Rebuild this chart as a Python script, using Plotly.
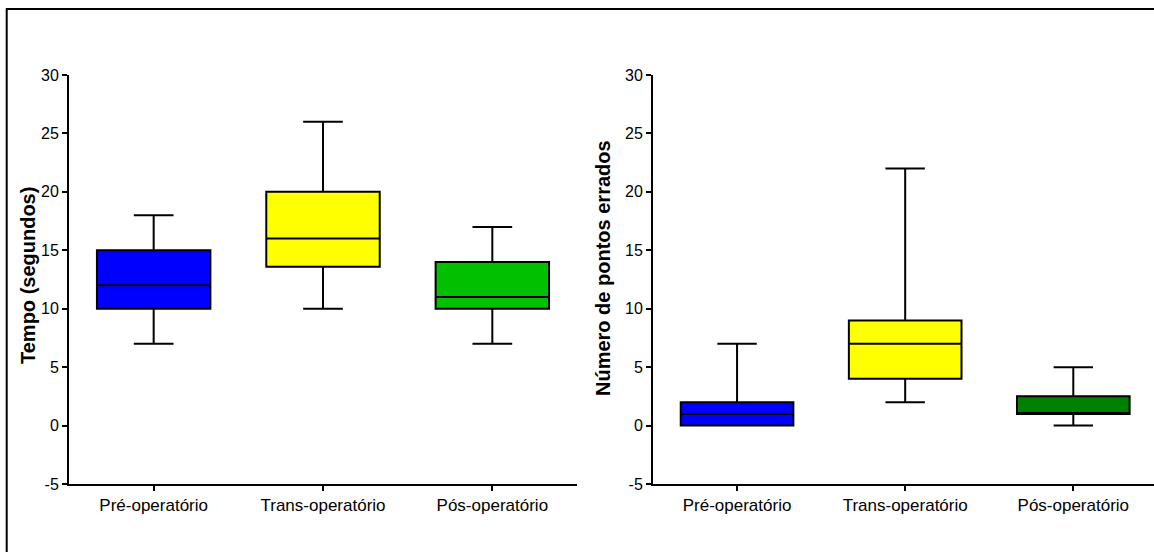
import plotly.graph_objects as go

categories = ["Pré-operatório", "Trans-operatório", "Pós-operatório"]
colors_left = ["#0000FF", "#FFFF00", "#00C000"]
colors_right = ["#0000FF", "#FFFF00", "#008000"]

# Tempo (segundos)
tempo_low = [7, 10, 7]
tempo_q1 = [10, 13.6, 10]
tempo_med = [12, 16, 11]
tempo_q3 = [15, 20, 14]
tempo_high = [18, 26, 17]

# Número de pontos errados
erros_low = [0, 2, 0]
erros_q1 = [0, 4, 1]
erros_med = [1, 7, 1]
erros_q3 = [2, 9, 2.5]
erros_high = [7, 22, 5]

y_ticks = [-5, 0, 5, 10, 15, 20, 25, 30]

W, H = 1154, 552
FONT = "Liberation Sans, Arial, sans-serif"

fig = go.Figure()

def add_boxes(xa, ya, low, q1, med, q3, high, colors):
    for i, cat in enumerate(categories):
        fig.add_trace(go.Box(
            x=[cat], lowerfence=[low[i]], q1=[q1[i]], median=[med[i]],
            q3=[q3[i]], upperfence=[high[i]],
            fillcolor=colors[i], line=dict(color="black", width=2),
            width=0.67, whiskerwidth=0.35, boxpoints=False,
            showlegend=False, xaxis=xa, yaxis=ya, hoverinfo="skip",
        ))

add_boxes("x", "y", tempo_low, tempo_q1, tempo_med, tempo_q3, tempo_high, colors_left)
add_boxes("x2", "y2", erros_low, erros_q1, erros_med, erros_q3, erros_high, colors_right)

ydom = [1 - 484 / H, 1 - 75 / H]

def xaxis_cfg(domain, rng, anchor):
    return dict(
        domain=domain, range=rng, anchor=anchor, type="category",
        categoryorder="array", categoryarray=categories,
        showline=True, linecolor="black", linewidth=2,
        ticks="outside", ticklen=5, tickwidth=1.5, tickcolor="black",
        tickfont=dict(family=FONT, size=17, color="black"),
        showgrid=False, zeroline=False, automargin=False, fixedrange=True,
    )

def yaxis_cfg(anchor):
    return dict(
        domain=ydom, range=[-5, 30], anchor=anchor,
        tickvals=y_ticks, ticktext=[str(v) for v in y_ticks],
        showline=True, linecolor="black", linewidth=2,
        ticks="outside", ticklen=5, tickwidth=1.5, tickcolor="black",
        tickfont=dict(family=FONT, size=16, color="black"),
        showgrid=False, zeroline=False, automargin=False, fixedrange=True,
    )

fig.update_layout(
    width=W, height=H,
    margin=dict(l=0, r=0, t=0, b=0, pad=0),
    paper_bgcolor="white", plot_bgcolor="white",
    boxmode="overlay",
    xaxis=xaxis_cfg([69 / W, 577 / W], [-0.5, 2.5], "y"),
    yaxis=yaxis_cfg("x"),
    xaxis2=xaxis_cfg([653 / W, 1.0], [-0.5, 2.48], "y2"),
    yaxis2=yaxis_cfg("x2"),
    font=dict(family=FONT, color="black"),
    shapes=[dict(type="rect", xref="paper", yref="paper",
                 x0=6.7 / W, x1=1.2, y0=-0.2, y1=1 - 9 / H,
                 line=dict(color="black", width=2), fillcolor="rgba(0,0,0,0)")],
    annotations=[
        dict(text="<b>Tempo (segundos)</b>", xref="paper", yref="paper",
             x=28 / W, y=1 - 276 / H, xanchor="center", yanchor="middle",
             textangle=-90, showarrow=False,
             font=dict(family=FONT, size=20, color="black")),
        dict(text="<b>Número de pontos errados</b>", xref="paper", yref="paper",
             x=603 / W, y=1 - 268 / H, xanchor="center", yanchor="middle",
             textangle=-90, showarrow=False,
             font=dict(family=FONT, size=20, color="black")),
    ],
)

fig.write_html(
    "out.html",
    config={"displayModeBar": False},
    post_script="document.body.style.margin='0';document.body.style.overflow='hidden';",
)
